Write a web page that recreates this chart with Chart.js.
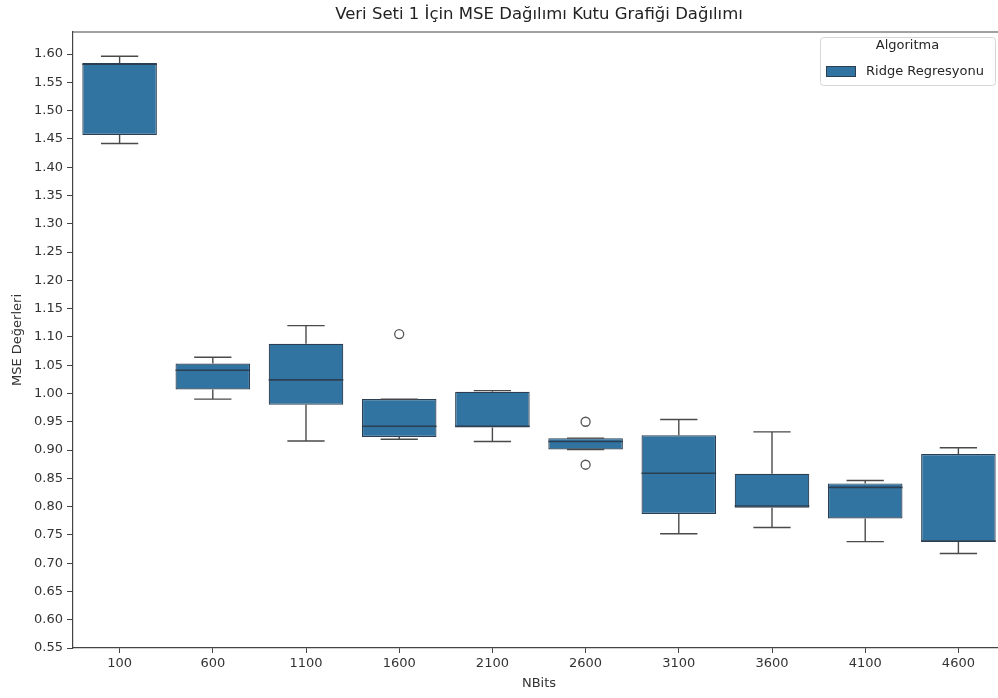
<!DOCTYPE html>
<html>
<head>
<meta charset="utf-8">
<script src="https://cdn.jsdelivr.net/npm/chart.js@4.4.1/dist/chart.umd.min.js"></script>
<style>
  html, body { margin: 0; padding: 0; background: #fff; overflow: hidden; }
  #wrap { width: 1078px; height: 698px; }
</style>
</head>
<body>
<div id="wrap"><canvas id="boxChart" width="1078" height="698"></canvas></div>
<script>
// MSE box statistics per NBits value
const nbits = ['100', '600', '1100', '1600', '2100', '2600', '3100', '3600', '4100', '4600'];
const whiskerLow  = [1.442, 0.990, 0.916, 0.919, 0.915, 0.901, 0.752, 0.763, 0.738, 0.717];
const q1          = [1.457, 1.007, 0.980, 0.923, 0.940, 0.901, 0.787, 0.798, 0.779, 0.738];
const median      = [1.582, 1.041, 1.024, 0.942, 0.942, 0.915, 0.859, 0.801, 0.834, 0.739];
const q3          = [1.584, 1.053, 1.088, 0.990, 1.003, 0.921, 0.926, 0.858, 0.841, 0.893];
const whiskerHigh = [1.596, 1.064, 1.120, 0.990, 1.005, 0.921, 0.954, 0.932, 0.846, 0.904];

// points beyond the whiskers
const outlierBits   = ['1600', '2600', '2600'];
const outlierValues = [1.105, 0.950, 0.874];

const yTicks = [0.55, 0.60, 0.65, 0.70, 0.75, 0.80, 0.85, 0.90, 0.95, 1.00, 1.05,
                1.10, 1.15, 1.20, 1.25, 1.30, 1.35, 1.40, 1.45, 1.50, 1.55, 1.60];

const chartTitle = 'Veri Seti 1 İçin MSE Dağılımı Kutu Grafiği Dağılımı';
const seriesName = 'Ridge Regresyonu';
const legendTitle = 'Algoritma';

const FONT = 'DejaVu Sans';
const BOX_COLOR = '#3274a1';
const EDGE_COLOR = '#2c3f52';
const WHISKER_COLOR = '#4a4a4a';
const AXIS_COLOR = '#444';

// whiskers, caps and median lines on top of the floating bars
const boxExtras = {
    id: 'boxExtras',
    afterDatasetsDraw(chart) {
        const y = chart.scales.y;
        const meta = chart.getDatasetMeta(0);
        const c = chart.ctx;
        c.save();
        meta.data.forEach((bar, i) => {
            const x = bar.x;
            const half = bar.width / 2;
            const cap = half / 2;
            c.lineWidth = 1.4;
            c.strokeStyle = WHISKER_COLOR;
            c.beginPath();
            // upper whisker
            c.moveTo(x, y.getPixelForValue(q3[i]));
            c.lineTo(x, y.getPixelForValue(whiskerHigh[i]));
            c.moveTo(x - cap, y.getPixelForValue(whiskerHigh[i]));
            c.lineTo(x + cap, y.getPixelForValue(whiskerHigh[i]));
            // lower whisker
            c.moveTo(x, y.getPixelForValue(q1[i]));
            c.lineTo(x, y.getPixelForValue(whiskerLow[i]));
            c.moveTo(x - cap, y.getPixelForValue(whiskerLow[i]));
            c.lineTo(x + cap, y.getPixelForValue(whiskerLow[i]));
            c.stroke();
            // median
            c.strokeStyle = EDGE_COLOR;
            c.lineWidth = 1.6;
            c.beginPath();
            c.moveTo(x - half, y.getPixelForValue(median[i]));
            c.lineTo(x + half, y.getPixelForValue(median[i]));
            c.stroke();
        });
        c.restore();
    }
};

// title centred over the plot area, top spine and the legend box
const frameAndLegend = {
    id: 'frameAndLegend',
    afterDraw(chart) {
        const { ctx: c, chartArea: a } = chart;
        c.save();
        c.font = '16.5px "' + FONT + '"';
        c.fillStyle = '#222';
        c.textAlign = 'center';
        c.textBaseline = 'middle';
        c.fillText(chartTitle, (a.left + a.right) / 2, 15);

        c.strokeStyle = AXIS_COLOR;
        c.lineWidth = 1.2;
        c.beginPath();
        c.moveTo(a.left, a.top);
        c.lineTo(a.right, a.top);
        c.stroke();

        const w = 175, h = 48;
        const lx = a.right - 10 - w;
        const ly = a.top + 5;
        c.fillStyle = 'rgba(255,255,255,0.8)';
        c.strokeStyle = '#d6d6d6';
        c.lineWidth = 1;
        c.beginPath();
        c.roundRect(lx + 0.5, ly + 0.5, w, h, 3);
        c.fill();
        c.stroke();

        c.font = '13px "' + FONT + '"';
        c.fillStyle = '#262626';
        c.textAlign = 'center';
        c.fillText(legendTitle, lx + w / 2, ly + 9);

        c.fillStyle = BOX_COLOR;
        c.strokeStyle = EDGE_COLOR;
        c.fillRect(lx + 6, ly + 29, 30, 11);
        c.strokeRect(lx + 6.5, ly + 29.5, 29, 10);

        c.fillStyle = '#262626';
        c.textAlign = 'left';
        c.fillText(chart.data.datasets[0].label, lx + 46, ly + 35);
        c.restore();
    }
};

new Chart(document.getElementById('boxChart'), {
    type: 'bar',
    data: {
        labels: nbits,
        datasets: [
            {
                label: seriesName,
                data: nbits.map((_, i) => [q1[i], q3[i]]),
                backgroundColor: BOX_COLOR,
                borderColor: EDGE_COLOR,
                borderWidth: 1.2,
                borderSkipped: false,
                barPercentage: 0.8,
                categoryPercentage: 1.0
            },
            {
                type: 'line',
                label: 'outliers',
                data: outlierBits.map((b, i) => ({ x: b, y: outlierValues[i] })),
                showLine: false,
                pointStyle: 'circle',
                pointRadius: 4.5,
                pointBorderWidth: 1.3,
                pointBorderColor: '#555',
                pointBackgroundColor: 'rgba(255,255,255,0)'
            }
        ]
    },
    options: {
        responsive: false,
        animation: false,
        layout: { padding: { left: 0, right: 73, top: 32, bottom: 0 } },
        plugins: {
            legend: { display: false },
            tooltip: { enabled: false },
            title: { display: false }
        },
        scales: {
            x: {
                offset: true,
                grid: { display: true, drawOnChartArea: false, tickLength: 5, color: AXIS_COLOR, offset: false },
                border: { color: AXIS_COLOR, width: 1.2 },
                ticks: { color: '#333', padding: 3, font: { family: FONT, size: 13 } },
                title: {
                    display: true,
                    text: 'NBits',
                    color: '#333',
                    font: { family: FONT, size: 13 },
                    padding: { top: 0, bottom: 7 }
                },
                afterFit(scale) { scale.height = 50; }
            },
            y: {
                min: 0.55,
                max: 1.639,
                grid: { display: true, drawOnChartArea: false, tickLength: 6, color: AXIS_COLOR },
                border: { color: AXIS_COLOR, width: 1.2 },
                ticks: {
                    color: '#333',
                    padding: 4,
                    font: { family: FONT, size: 13 },
                    callback: v => Number(v).toFixed(2)
                },
                afterBuildTicks(scale) {
                    scale.ticks = yTicks.map(v => ({ value: v }));
                },
                title: {
                    display: true,
                    text: 'MSE Değerleri',
                    color: '#333',
                    font: { family: FONT, size: 13 },
                    padding: { top: 10, bottom: 0 }
                },
                afterFit(scale) { scale.width = 73; }
            }
        }
    },
    plugins: [boxExtras, frameAndLegend]
});
</script>
</body>
</html>
